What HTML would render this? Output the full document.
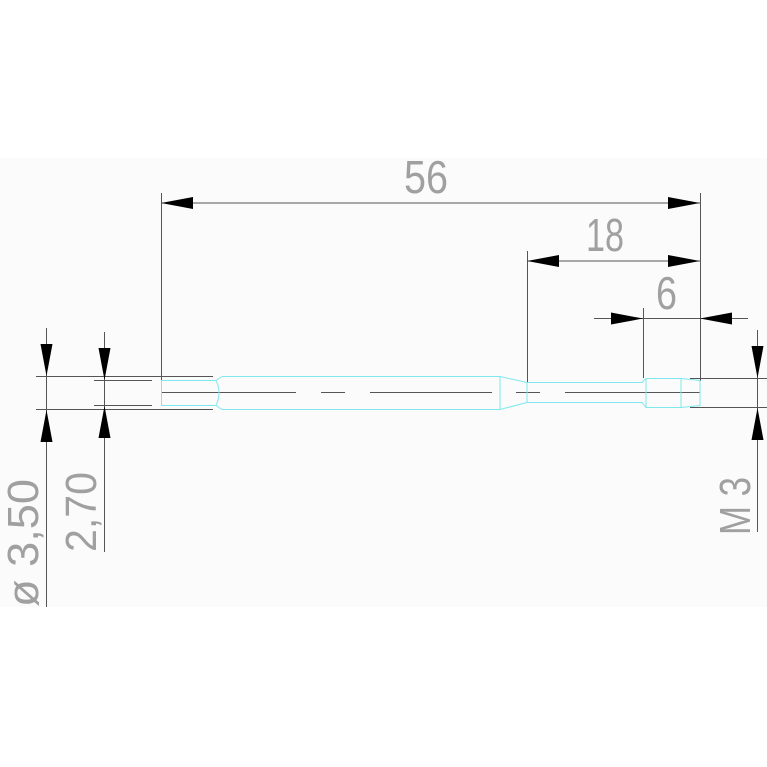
<!DOCTYPE html>
<html><head><meta charset="utf-8"><style>
html,body{margin:0;padding:0;background:#fff}
svg{display:block}
text{font-family:"Liberation Sans",sans-serif;fill:#a0a0a0}
</style></head><body>
<svg width="767" height="767" viewBox="0 0 767 767" xmlns="http://www.w3.org/2000/svg">
<rect x="0" y="158" width="767" height="449" fill="#fafbfa"/>
<g stroke="#555" stroke-width="1" fill="none">
<line x1="161.5" y1="193" x2="161.5" y2="381"/>
<line x1="700.5" y1="193" x2="700.5" y2="381"/>
<line x1="161" y1="203" x2="700" y2="203"/>
<line x1="527.5" y1="251" x2="527.5" y2="383"/>
<line x1="527" y1="261" x2="700" y2="261"/>
<line x1="643.5" y1="308" x2="643.5" y2="378"/>
<line x1="594" y1="318.5" x2="748" y2="318.5"/>
<line x1="36" y1="376.5" x2="213" y2="376.5"/>
<line x1="36" y1="409.5" x2="213" y2="409.5"/>
<line x1="46.5" y1="328" x2="46.5" y2="607"/>
<line x1="94" y1="380.5" x2="152" y2="380.5"/>
<line x1="94" y1="405.5" x2="152" y2="405.5"/>
<line x1="104.5" y1="332" x2="104.5" y2="552"/>
<line x1="690" y1="378.5" x2="767" y2="378.5"/>
<line x1="690" y1="407.5" x2="767" y2="407.5"/>
<line x1="757.5" y1="330" x2="757.5" y2="532"/>
<path d="M161 392.5H296M321 392.5H345M370 392.5H492M516 392.5H540M565 392.5H700"/>
</g>
<g fill="#000">
<polygon points="161,203 193,197 193,209"/>
<polygon points="700,203 668,197 668,209"/>
<polygon points="527,261 559,255 559,267"/>
<polygon points="700,261 668,255 668,267"/>
<polygon points="643,318.5 611,312.5 611,324.5"/>
<polygon points="700,318.5 732,312.5 732,324.5"/>
<polygon points="46.5,376 40.5,344 52.5,344"/>
<polygon points="46.5,410 40.5,442 52.5,442"/>
<polygon points="104.5,380 98.5,348 110.5,348"/>
<polygon points="104.5,406 98.5,438 110.5,438"/>
<polygon points="757.5,378 751.5,346 763.5,346"/>
<polygon points="757.5,408 751.5,440 763.5,440"/>
</g>
<g stroke="#7fe8ee" stroke-width="1" fill="none">
<path d="M161.5 380.5H216Q222 392.5 216 405.5H161.5Z"/>
<path d="M222 376.5H500L527 382.5H642L646 378.5H681L700 380.5V405.5L681 407.5H646L642 402.5H527L500 409.5H222L216 405.5M216 380.5L222 376.5"/>
<line x1="500" y1="376.5" x2="500" y2="409.5"/>
<line x1="527" y1="382.5" x2="527" y2="402.5"/>
<line x1="646" y1="378.5" x2="646" y2="407.5"/>
<line x1="681" y1="378.5" x2="681" y2="407.5"/>
</g>
<text x="404" y="193" font-size="46" textLength="44" lengthAdjust="spacingAndGlyphs">56</text>
<text x="586" y="251" font-size="46" textLength="38" lengthAdjust="spacingAndGlyphs">18</text>
<text x="656" y="309" font-size="46" textLength="21" lengthAdjust="spacingAndGlyphs">6</text>
<text transform="translate(38,607) rotate(-90)" font-size="44" textLength="128" lengthAdjust="spacingAndGlyphs">ø 3,50</text>
<text transform="translate(96,552) rotate(-90)" font-size="44" textLength="80" lengthAdjust="spacingAndGlyphs">2,70</text>
<text transform="translate(750,535) rotate(-90)" font-size="44" textLength="58" lengthAdjust="spacingAndGlyphs">M 3</text>
</svg>
</body></html>
